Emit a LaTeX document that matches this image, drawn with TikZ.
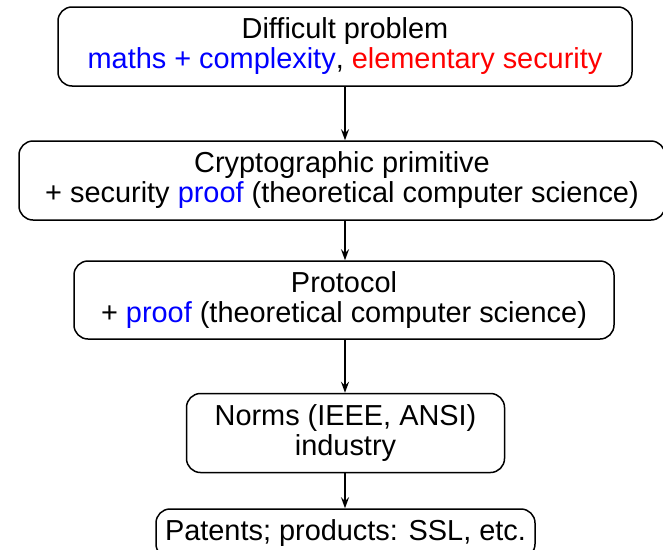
\documentclass[tikz,border=0pt]{standalone}
\usepackage{fontspec}
\setmainfont{Liberation Sans}
\usetikzlibrary{arrows.meta}
\begin{document}
\begin{tikzpicture}[x=1pt,y=-1pt,
  box/.style={draw, line width=1.5pt, rounded corners=14pt, align=center,
    inner sep=0pt, font=\fontsize{28.9}{30}\selectfont},
  flow/.style={line width=1.3pt, -{Stealth[length=11pt,width=8pt,inset=4pt]}}]
\useasboundingbox (0,0) rectangle (663,549);
\node[box, minimum width=574pt, minimum height=79pt] (b1) at (345,46.5)
  {Difficult problem\\\textcolor{blue}{maths + complexity}, \textcolor{red}{elementary security}};
\node[box, minimum width=646pt, minimum height=79pt] (b2) at (342,180.5)
  {Cryptographic primitive\\+ security \textcolor{blue}{proof} (theoretical computer science)};
\node[box, minimum width=540pt, minimum height=78pt] (b3) at (344,300)
  {Protocol\\+ \textcolor{blue}{proof} (theoretical computer science)};
\node[box, minimum width=318pt, minimum height=79pt] (b4) at (345.5,433)
  {Norms (IEEE, ANSI)\\industry};
\node[box, minimum width=379pt, minimum height=49pt] (b5) at (345.5,533.5)
  {Patents; products: SSL, etc.};
\coordinate (ax) at (345,0);
\draw[flow] (b1.south -| ax) -- (b2.north -| ax);
\draw[flow] (b2.south -| ax) -- (b3.north -| ax);
\draw[flow] (b3.south -| ax) -- (b4.north -| ax);
\draw[flow] (b4.south -| ax) -- (b5.north -| ax);
\end{tikzpicture}
\end{document}
